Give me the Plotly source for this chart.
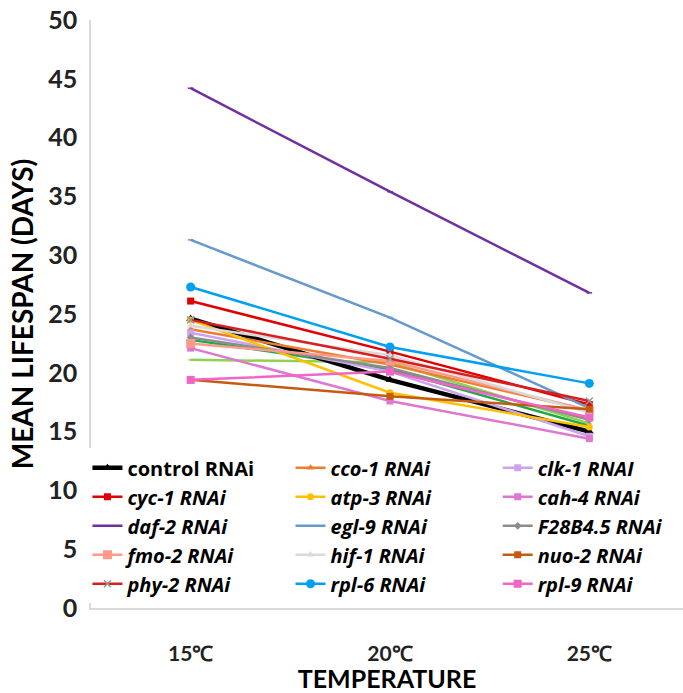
import plotly.graph_objects as go

# Temperature categories on the x axis
temperatures = ["15℃", "20℃", "25℃"]

# Mean lifespan (days) per RNAi treatment at 15, 20 and 25 ℃
control_rnai = [24.6, 19.4, 15.0]
cco1_rnai = [23.7, 20.7, 16.8]
clk1_rnai = [23.4, 20.1, 14.6]
cyc1_rnai = [26.1, 21.8, 17.3]
atp3_rnai = [24.5, 18.3, 15.4]
cah4_rnai = [22.1, 17.6, 14.4]
daf2_rnai = [44.2, 35.4, 26.8]
egl9_rnai = [31.3, 24.7, 17.0]
f28b45_rnai = [23.0, 20.4, 16.0]
fmo2_rnai = [22.5, 21.0, 16.8]
hif1_rnai = [24.0, 21.5, 16.6]
nuo2_rnai = [19.4, 18.0, 16.9]
phy2_rnai = [24.5, 21.2, 17.6]
rpl6_rnai = [27.3, 22.2, 19.1]
rpl9_rnai = [19.4, 20.1, 16.2]
# two further treatments drawn without legend entries
extra_a_rnai = [22.8, 20.3, 15.5]
extra_b_rnai = [21.1, 20.9, 15.7]

y_ticks = [0, 5, 10, 15, 20, 25, 30, 35, 40, 45, 50]

FONT = "Lato"
LEGEND_FONT = "Open Sans"

# (label, values, colour, marker symbol, marker size, line width, marker colour, legend column)
series = [
    ("<b>control RNAi</b>", control_rnai, "#000000", "triangle-up", 8, 4.5, None, "legend"),
    ("<b><i>cco-1 RNAi</i></b>", cco1_rnai, "#ED7D31", "triangle-up", 7, 2.5, None, "legend2"),
    ("<b><i>clk-1 RNAI</i></b>", clk1_rnai, "#CCA3EE", "square", 7, 2.5, None, "legend3"),
    ("<b><i>cyc-1 RNAi</i></b>", cyc1_rnai, "#E00000", "square", 7, 2.5, None, "legend"),
    ("<b><i>atp-3 RNAi</i></b>", atp3_rnai, "#FFC000", "circle", 7, 2.5, None, "legend2"),
    ("<b><i>cah-4 RNAi</i></b>", cah4_rnai, "#DD77D0", "square", 7, 2.5, None, "legend3"),
    ("<b><i>daf-2 RNAi</i></b>", daf2_rnai, "#7030A0", "line-ew", 4, 2.5, None, "legend"),
    ("<b><i>egl-9 RNAi</i></b>", egl9_rnai, "#6699CC", "line-ew", 4, 2.5, None, "legend2"),
    ("<b><i>F28B4.5 RNAi</i></b>", f28b45_rnai, "#8C8C8C", "diamond", 6, 2.5, None, "legend3"),
    ("<b><i>fmo-2 RNAi</i></b>", fmo2_rnai, "#FF9988", "square", 9, 2.5, None, "legend"),
    ("<b><i>hif-1 RNAi</i></b>", hif1_rnai, "#D9D9D9", "triangle-up", 7, 2.5, None, "legend2"),
    ("<b><i>nuo-2 RNAi</i></b>", nuo2_rnai, "#C55A11", "square", 7, 2.5, None, "legend3"),
    ("<b><i>phy-2 RNAi</i></b>", phy2_rnai, "#D81E1E", "x-thin", 7, 2.5, "#999999", "legend"),
    ("<b><i>rpl-6 RNAi</i></b>", rpl6_rnai, "#00A0F0", "circle", 9, 2.5, None, "legend2"),
    ("<b><i>rpl-9 RNAi</i></b>", rpl9_rnai, "#F066C8", "square", 8, 2.5, None, "legend3"),
    ("treatment A", extra_a_rnai, "#1FA84A", "line-ew", 3, 2.5, None, None),
    ("treatment B", extra_b_rnai, "#92D050", "line-ew", 3, 2.5, None, None),
]

fig = go.Figure()

# unlabelled lines first, legend-listed series on top
draw_order = series[15:] + series[:15]
for name, vals, color, symbol, msize, lw, mcolor, leg in draw_order:
    mc = mcolor or color
    outlined = symbol.endswith("thin") or symbol == "line-ew"
    fig.add_trace(go.Scatter(
        x=temperatures, y=vals, name=name, mode="lines+markers",
        line=dict(color=color, width=lw),
        marker=dict(symbol=symbol, size=msize, color=mc,
                    line=dict(color=mc, width=1.5 if outlined else 0)),
        showlegend=leg is not None,
        legend=leg or "legend",
    ))

legend_common = dict(
    orientation="v", yanchor="bottom", y=0.008, xanchor="left",
    bgcolor="white", borderwidth=0, itemwidth=30, tracegroupgap=0,
    font=dict(family=LEGEND_FONT, size=20, color="#000000"),
    traceorder="normal",
)

fig.update_layout(
    width=683, height=693,
    margin=dict(l=91, r=0, t=20, b=85),
    paper_bgcolor="white", plot_bgcolor="white",
    font=dict(family=FONT, color="#000000"),
    xaxis=dict(
        type="category", range=[-0.5, 2.47], automargin=False,
        showline=True, linecolor="#D9D9D9", linewidth=1.5,
        showgrid=False, ticks="", ticklabelstandoff=26,
        tickfont=dict(family=FONT, size=21, color="#222222", weight="bold"),
        title=dict(text="<b>TEMPERATURE</b>", font=dict(family=FONT, size=25, color="#000000"), standoff=21),
    ),
    yaxis=dict(
        range=[0, 50], tickvals=y_ticks, automargin=False,
        showline=True, linecolor="#D9D9D9", linewidth=1.5,
        showgrid=False, zeroline=False, ticks="", ticklabelstandoff=7,
        tickfont=dict(family=FONT, size=25, color="#222222", weight="bold"),
        title=dict(text="<b>MEAN LIFESPAN (DAYS)</b>", font=dict(family=FONT, size=28, color="#000000"), standoff=6),
    ),
    legend=dict(legend_common, x=-0.006),
    legend2=dict(legend_common, x=0.337),
    legend3=dict(legend_common, x=0.687),
)

fig.write_html("out.html")
